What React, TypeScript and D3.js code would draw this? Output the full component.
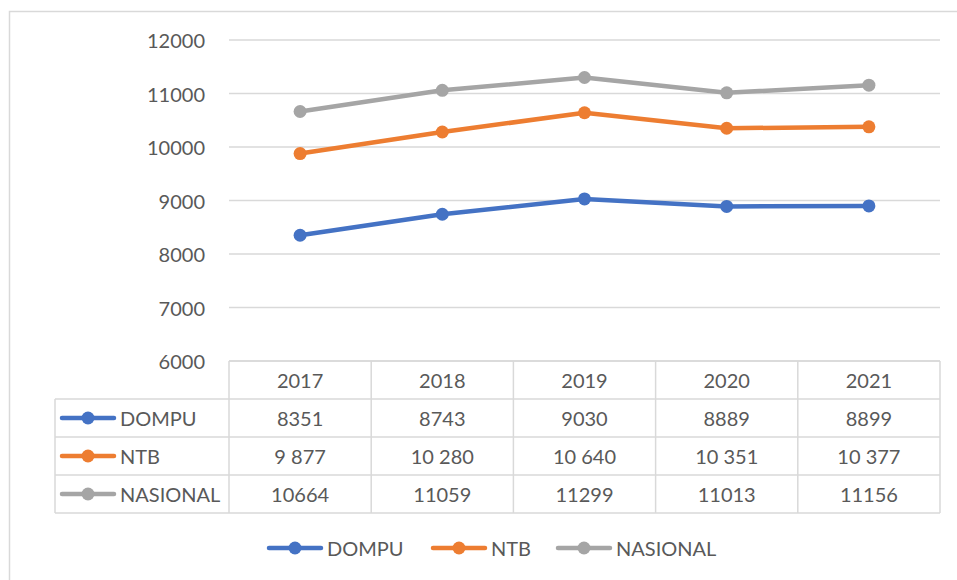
import React, { useEffect, useRef } from 'react';
import * as d3 from 'd3';

const years = ['2017', '2018', '2019', '2020', '2021'];
const seriesNames = ['DOMPU', 'NTB', 'NASIONAL'];
const dompu = [8351, 8743, 9030, 8889, 8899];
const ntb = [9877, 10280, 10640, 10351, 10377];
const nasional = [10664, 11059, 11299, 11013, 11156];
// labels as printed in the data table
const dompuLabels = ['8351', '8743', '9030', '8889', '8899'];
const ntbLabels = ['9 877', '10 280', '10 640', '10 351', '10 377'];
const nasionalLabels = ['10664', '11059', '11299', '11013', '11156'];
const yTicks = [6000, 7000, 8000, 9000, 10000, 11000, 12000];

const colors = ['#4472C4', '#ED7D31', '#A5A5A5'];

const App: React.FC = () => {
  const svgRef = useRef<SVGSVGElement>(null);
  const width = 957;
  const height = 580;

  useEffect(() => {
    if (!svgRef.current) return;
    const svg = d3.select(svgRef.current);
    svg.selectAll('*').remove();

    const font = 'Lato, Carlito, Calibri, sans-serif';
    const textColor = '#595959';
    const gridColor = '#d9d9d9';

    const plotLeft = 229;
    const plotRight = 940;
    const plotTop = 40;
    const plotBottom = 361;
    const rowH = 38;
    const labelLeft = 55;

    // outer chart border
    svg.append('rect')
      .attr('x', 9.5)
      .attr('y', 11.5)
      .attr('width', width + 10)
      .attr('height', height + 10)
      .attr('fill', 'white')
      .attr('stroke', gridColor)
      .attr('stroke-width', 1.5);

    const x = d3.scaleBand<string>()
      .domain(years)
      .range([plotLeft, plotRight]);

    const y = d3.scaleLinear()
      .domain([6000, 12000])
      .range([plotBottom, plotTop]);

    // gridlines
    yTicks.forEach(t => {
      svg.append('line')
        .attr('x1', plotLeft)
        .attr('x2', plotRight)
        .attr('y1', y(t))
        .attr('y2', y(t))
        .attr('stroke', gridColor)
        .attr('stroke-width', 1.5);

      svg.append('text')
        .attr('x', 205)
        .attr('y', y(t))
        .attr('text-anchor', 'end')
        .attr('dominant-baseline', 'central')
        .style('font-family', font)
        .style('font-size', '20px')
        .style('fill', textColor)
        .text(t);
    });

    // data table
    const tableBottom = plotBottom + rowH * 4;
    const table = svg.append('g')
      .attr('fill', 'none')
      .attr('stroke', gridColor)
      .attr('stroke-width', 1.5);

    // horizontal lines
    table.append('line')
      .attr('x1', plotLeft).attr('x2', plotRight)
      .attr('y1', plotBottom).attr('y2', plotBottom);
    for (let r = 1; r <= 4; r++) {
      table.append('line')
        .attr('x1', labelLeft).attr('x2', plotRight)
        .attr('y1', plotBottom + r * rowH).attr('y2', plotBottom + r * rowH);
    }
    // vertical lines
    table.append('line')
      .attr('x1', labelLeft).attr('x2', labelLeft)
      .attr('y1', plotBottom + rowH).attr('y2', tableBottom);
    years.forEach(yr => {
      const bx = x(yr) as number;
      table.append('line')
        .attr('x1', bx).attr('x2', bx)
        .attr('y1', plotBottom).attr('y2', tableBottom);
    });
    table.append('line')
      .attr('x1', plotRight).attr('x2', plotRight)
      .attr('y1', plotBottom).attr('y2', tableBottom);

    // year headers
    years.forEach(yr => {
      svg.append('text')
        .attr('x', (x(yr) as number) + x.bandwidth() / 2)
        .attr('y', plotBottom + rowH / 2)
        .attr('text-anchor', 'middle')
        .attr('dominant-baseline', 'central')
        .style('font-family', font)
        .style('font-size', '20px')
        .style('fill', textColor)
        .text(yr);
    });

    const allValues = [dompu, ntb, nasional];
    const allLabels = [dompuLabels, ntbLabels, nasionalLabels];

    const legendKey = (g: any, cx: number, cy: number, color: string) => {
      g.append('line')
        .attr('x1', cx - 26).attr('x2', cx + 26)
        .attr('y1', cy).attr('y2', cy)
        .attr('stroke', color)
        .attr('stroke-width', 4.5)
        .attr('stroke-linecap', 'round');
      g.append('circle')
        .attr('cx', cx).attr('cy', cy)
        .attr('r', 6.5)
        .attr('fill', color);
    };

    // table rows
    seriesNames.forEach((name, i) => {
      const cy = plotBottom + rowH * (i + 1) + rowH / 2;
      legendKey(svg, 88, cy, colors[i]);
      svg.append('text')
        .attr('x', 120)
        .attr('y', cy)
        .attr('dominant-baseline', 'central')
        .style('font-family', font)
        .style('font-size', '20px')
        .style('fill', textColor)
        .text(name);

      allLabels[i].forEach((lbl, j) => {
        svg.append('text')
          .attr('x', (x(years[j]) as number) + x.bandwidth() / 2)
          .attr('y', cy)
          .attr('text-anchor', 'middle')
          .attr('dominant-baseline', 'central')
          .style('font-family', font)
          .style('font-size', '20px')
          .style('fill', textColor)
          .text(lbl);
      });
    });

    // lines + markers
    const line = d3.line<number>()
      .x((_, j) => (x(years[j]) as number) + x.bandwidth() / 2)
      .y(d => y(d));

    allValues.forEach((vals, i) => {
      svg.append('path')
        .datum(vals)
        .attr('d', line)
        .attr('fill', 'none')
        .attr('stroke', colors[i])
        .attr('stroke-width', 4.5)
        .attr('stroke-linejoin', 'round')
        .attr('stroke-linecap', 'round');

      vals.forEach((v, j) => {
        svg.append('circle')
          .attr('cx', (x(years[j]) as number) + x.bandwidth() / 2)
          .attr('cy', y(v))
          .attr('r', 6.5)
          .attr('fill', colors[i]);
      });
    });

    // bottom legend
    const legendY = 548;
    const legendXs = [295, 459, 584];
    seriesNames.forEach((name, i) => {
      legendKey(svg, legendXs[i], legendY, colors[i]);
      svg.append('text')
        .attr('x', legendXs[i] + 32)
        .attr('y', legendY)
        .attr('dominant-baseline', 'central')
        .style('font-family', font)
        .style('font-size', '20px')
        .style('fill', textColor)
        .text(name);
    });
  }, []);

  return (
    <svg
      ref={svgRef}
      width={width}
      height={height}
      style={{ position: 'absolute', left: 0, top: 0, background: 'white' }}
    />
  );
};

export default App;
